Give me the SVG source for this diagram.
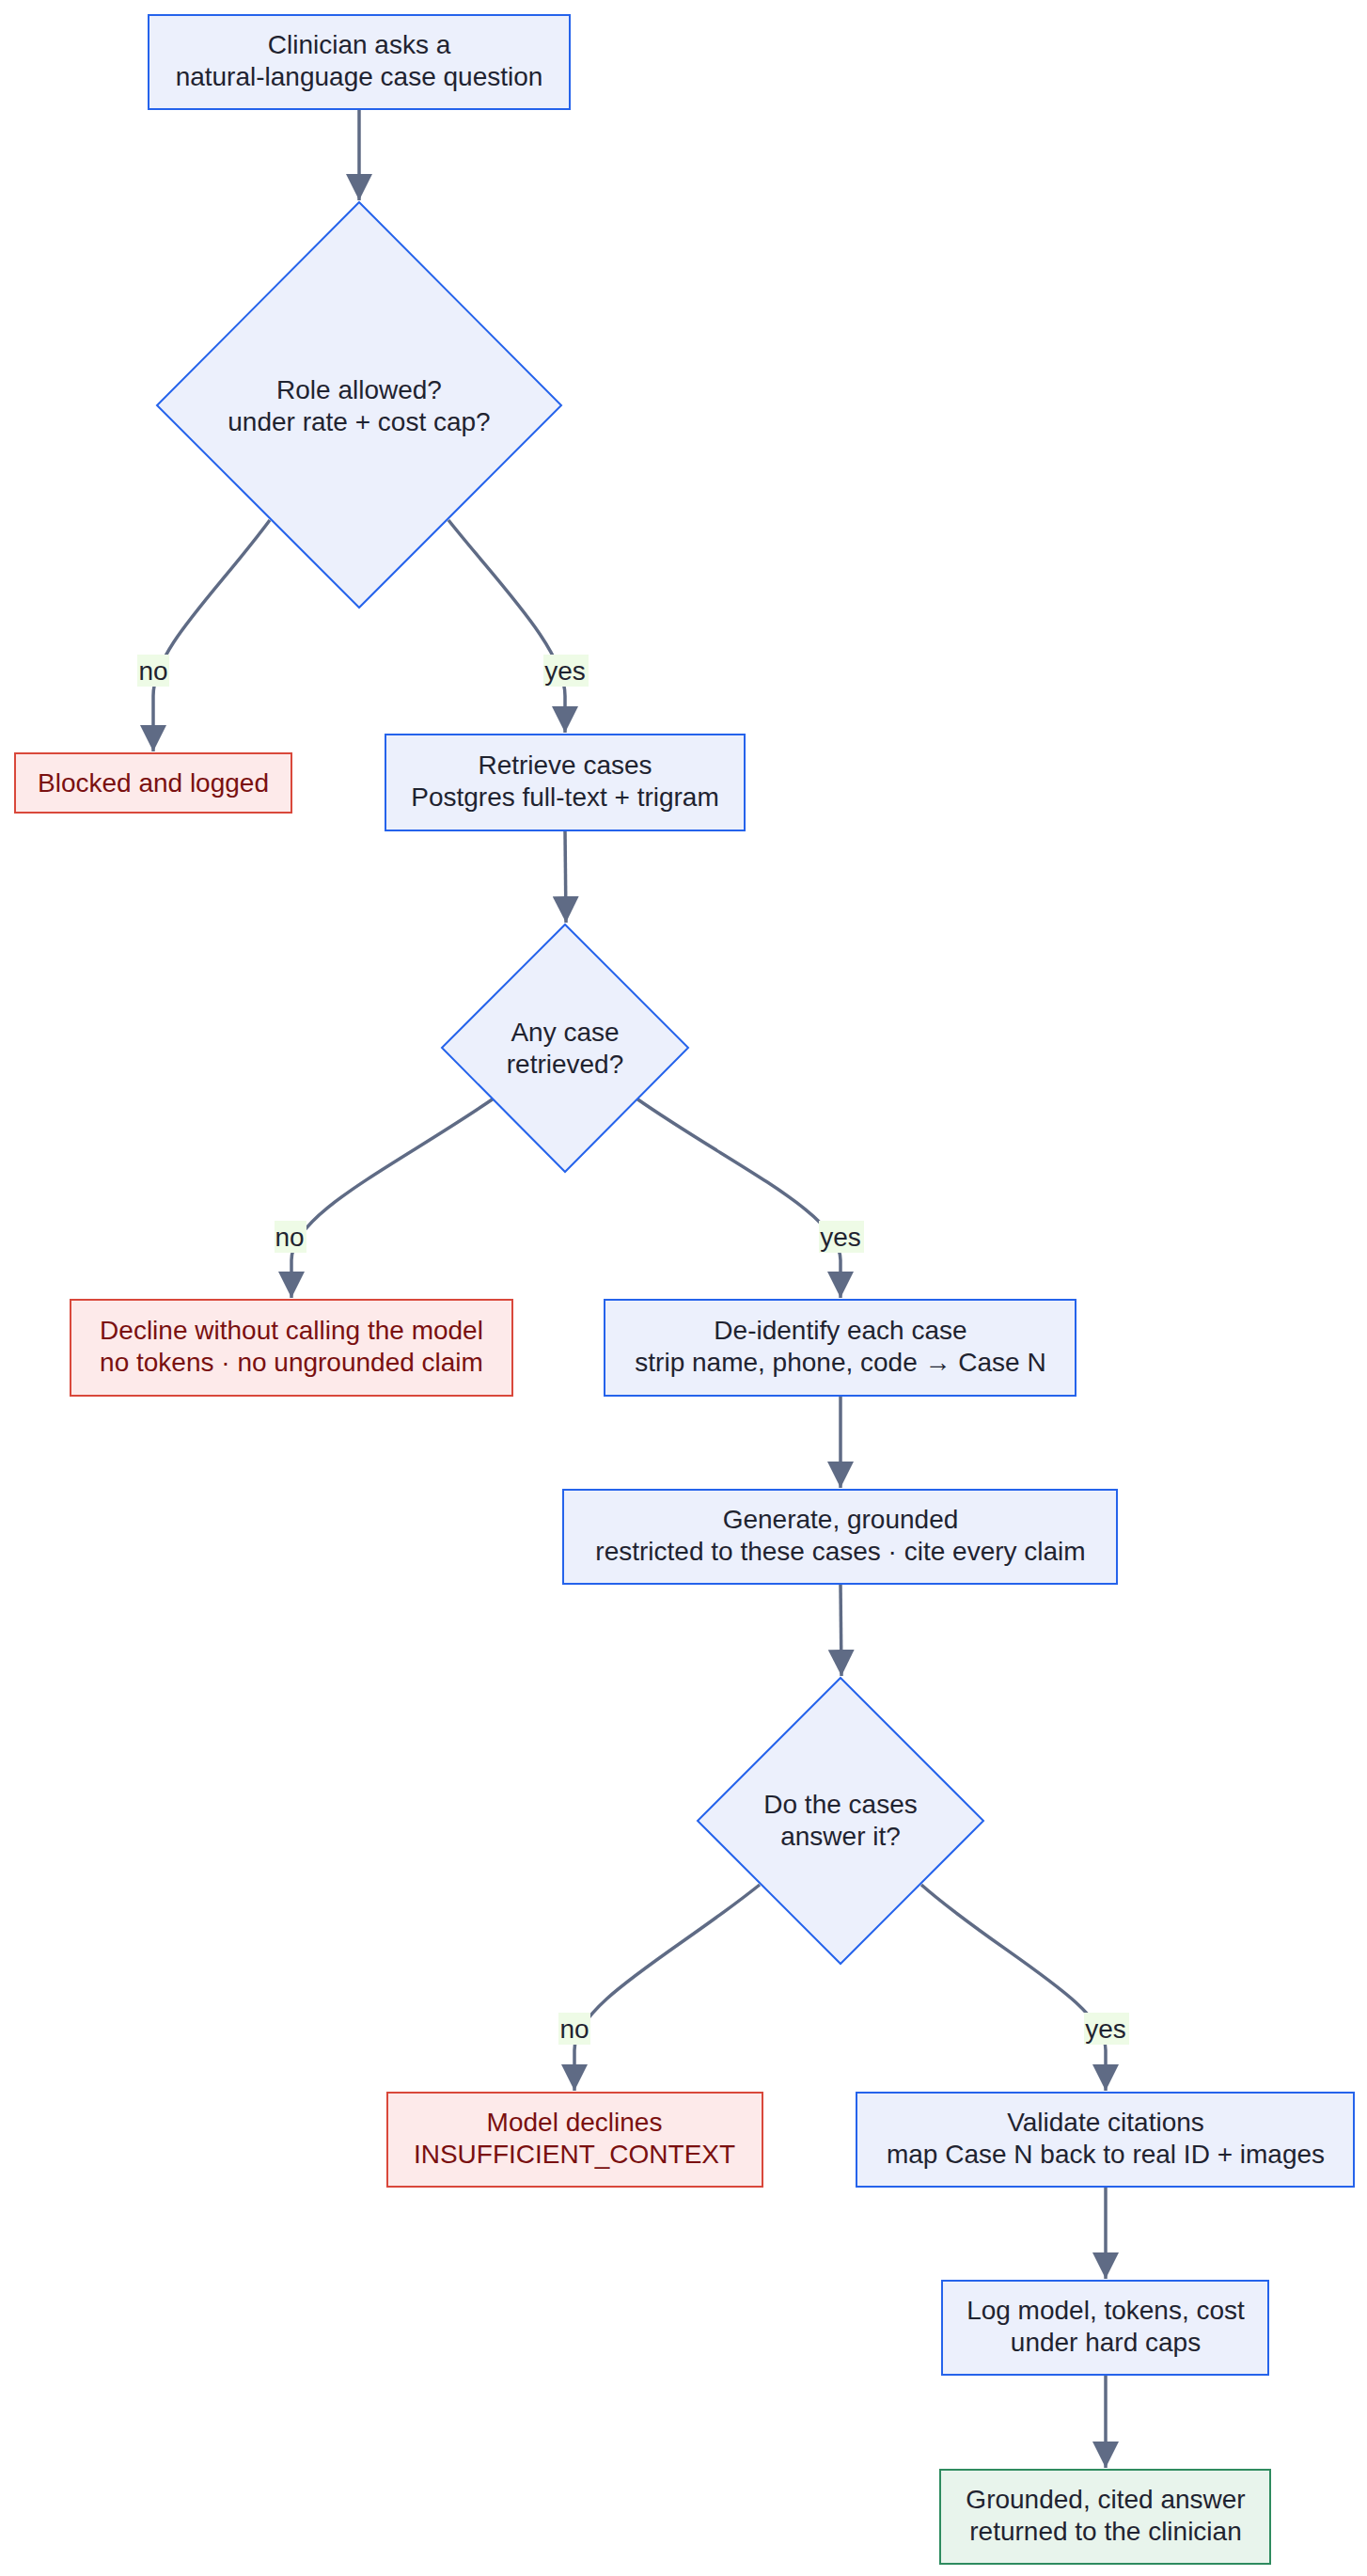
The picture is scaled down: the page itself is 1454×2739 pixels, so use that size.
<svg xmlns="http://www.w3.org/2000/svg" width="1454" height="2739" viewBox="0 0 1454 2739">
<style>
text{font-family:"Liberation Sans",Arial,sans-serif;font-size:28px;text-anchor:middle;fill:#1f2330}
.n{fill:#ecf0fc;stroke:#2563eb;stroke-width:2}
.r{fill:#fdeaea;stroke:#d9483b;stroke-width:2}
.r+text,.rt{fill:#7a1010}
.g{fill:#e8f4ec;stroke:#2e8b5f;stroke-width:2}
.e{fill:none;stroke:#5f6b85;stroke-width:3.5}
.lb{fill:#eefbe6}
</style>
<defs><marker id="a" viewBox="0 0 10 10" refX="9" refY="5" markerWidth="6" markerHeight="6" markerUnits="userSpaceOnUse" orient="auto"><path d="M0,0L10,5L0,10z" fill="#5f6b85"/></marker>
<marker id="m" viewBox="0 0 10 10" refX="10" refY="5" markerWidth="8" markerHeight="8" orient="auto"><path d="M0,0L10,5L0,10z" fill="#5f6b85"/></marker></defs>
<g id="edges">
<path class="e" marker-end="url(#m)" d="M382,116 L382,213"/>
<path class="e" marker-end="url(#m)" d="M287,553 C230,630 163,690 163,740 L163,799"/>
<path class="e" marker-end="url(#m)" d="M477,553 C530,620 601,690 601,740 L601,779"/>
<path class="e" marker-end="url(#m)" d="M601,883 L602,981"/>
<path class="e" marker-end="url(#m)" d="M525,1168 C420,1240 310,1290 310,1340 L310,1380"/>
<path class="e" marker-end="url(#m)" d="M677,1168 C780,1240 894,1290 894,1340 L894,1380"/>
<path class="e" marker-end="url(#m)" d="M894,1484 L894,1582"/>
<path class="e" marker-end="url(#m)" d="M894,1684 L895,1782"/>
<path class="e" marker-end="url(#m)" d="M808,2004 C720,2075 611,2130 611,2180 L611,2223"/>
<path class="e" marker-end="url(#m)" d="M980,2004 C1060,2075 1176,2130 1176,2180 L1176,2223"/>
<path class="e" marker-end="url(#m)" d="M1176,2325 L1176,2423"/>
<path class="e" marker-end="url(#m)" d="M1176,2525 L1176,2624"/>
<rect class="lb" x="146" y="696" width="34" height="34"/><text x="163" y="723">no</text>
<rect class="lb" x="578" y="696" width="48" height="34"/><text x="601" y="723">yes</text>
<rect class="lb" x="292" y="1298" width="34" height="34"/><text x="308" y="1325">no</text>
<rect class="lb" x="871" y="1298" width="48" height="34"/><text x="894" y="1325">yes</text>
<rect class="lb" x="594" y="2140" width="34" height="34"/><text x="611" y="2167">no</text>
<rect class="lb" x="1153" y="2140" width="48" height="34"/><text x="1176" y="2167">yes</text>
</g>
<g id="start"><rect class="n" x="158" y="16" width="448" height="100"/><text x="382" y="57">Clinician asks a</text><text x="382" y="91">natural-language case question</text></g>
<g id="d1"><polygon class="n" points="382,215 597,431 382,646 167,431"/><text x="382" y="424">Role allowed?</text><text x="382" y="458">under rate + cost cap?</text></g>
<g id="blocked"><rect class="r" x="16" y="801" width="294" height="63"/><text class="rt" x="163" y="842">Blocked and logged</text></g>
<g id="retrieve"><rect class="n" x="410" y="781" width="382" height="102"/><text x="601" y="823">Retrieve cases</text><text x="601" y="857">Postgres full-text + trigram</text></g>
<g id="d2"><polygon class="n" points="601,983 732,1114 601,1246 470,1114"/><text x="601" y="1107">Any case</text><text x="601" y="1141">retrieved?</text></g>
<g id="decline"><rect class="r" x="75" y="1382" width="470" height="102"/><text class="rt" x="310" y="1424">Decline without calling the model</text><text class="rt" x="310" y="1458">no tokens · no ungrounded claim</text></g>
<g id="deid"><rect class="n" x="643" y="1382" width="501" height="102"/><text x="894" y="1424">De-identify each case</text><text x="894" y="1458">strip name, phone, code → Case N</text></g>
<g id="gen"><rect class="n" x="599" y="1584" width="589" height="100"/><text x="894" y="1625">Generate, grounded</text><text x="894" y="1659">restricted to these cases · cite every claim</text></g>
<g id="d3"><polygon class="n" points="894,1784 1046,1936 894,2088 742,1936"/><text x="894" y="1928">Do the cases</text><text x="894" y="1962">answer it?</text></g>
<g id="mdecl"><rect class="r" x="412" y="2225" width="399" height="100"/><text class="rt" x="611" y="2266">Model declines</text><text class="rt" x="611" y="2300">INSUFFICIENT_CONTEXT</text></g>
<g id="validate"><rect class="n" x="911" y="2225" width="529" height="100"/><text x="1176" y="2266">Validate citations</text><text x="1176" y="2300">map Case N back to real ID + images</text></g>
<g id="log"><rect class="n" x="1002" y="2425" width="347" height="100"/><text x="1176" y="2466">Log model, tokens, cost</text><text x="1176" y="2500">under hard caps</text></g>
<g id="done"><rect class="g" x="1000" y="2626" width="351" height="100"/><text x="1176" y="2667">Grounded, cited answer</text><text x="1176" y="2701">returned to the clinician</text></g>
</svg>
